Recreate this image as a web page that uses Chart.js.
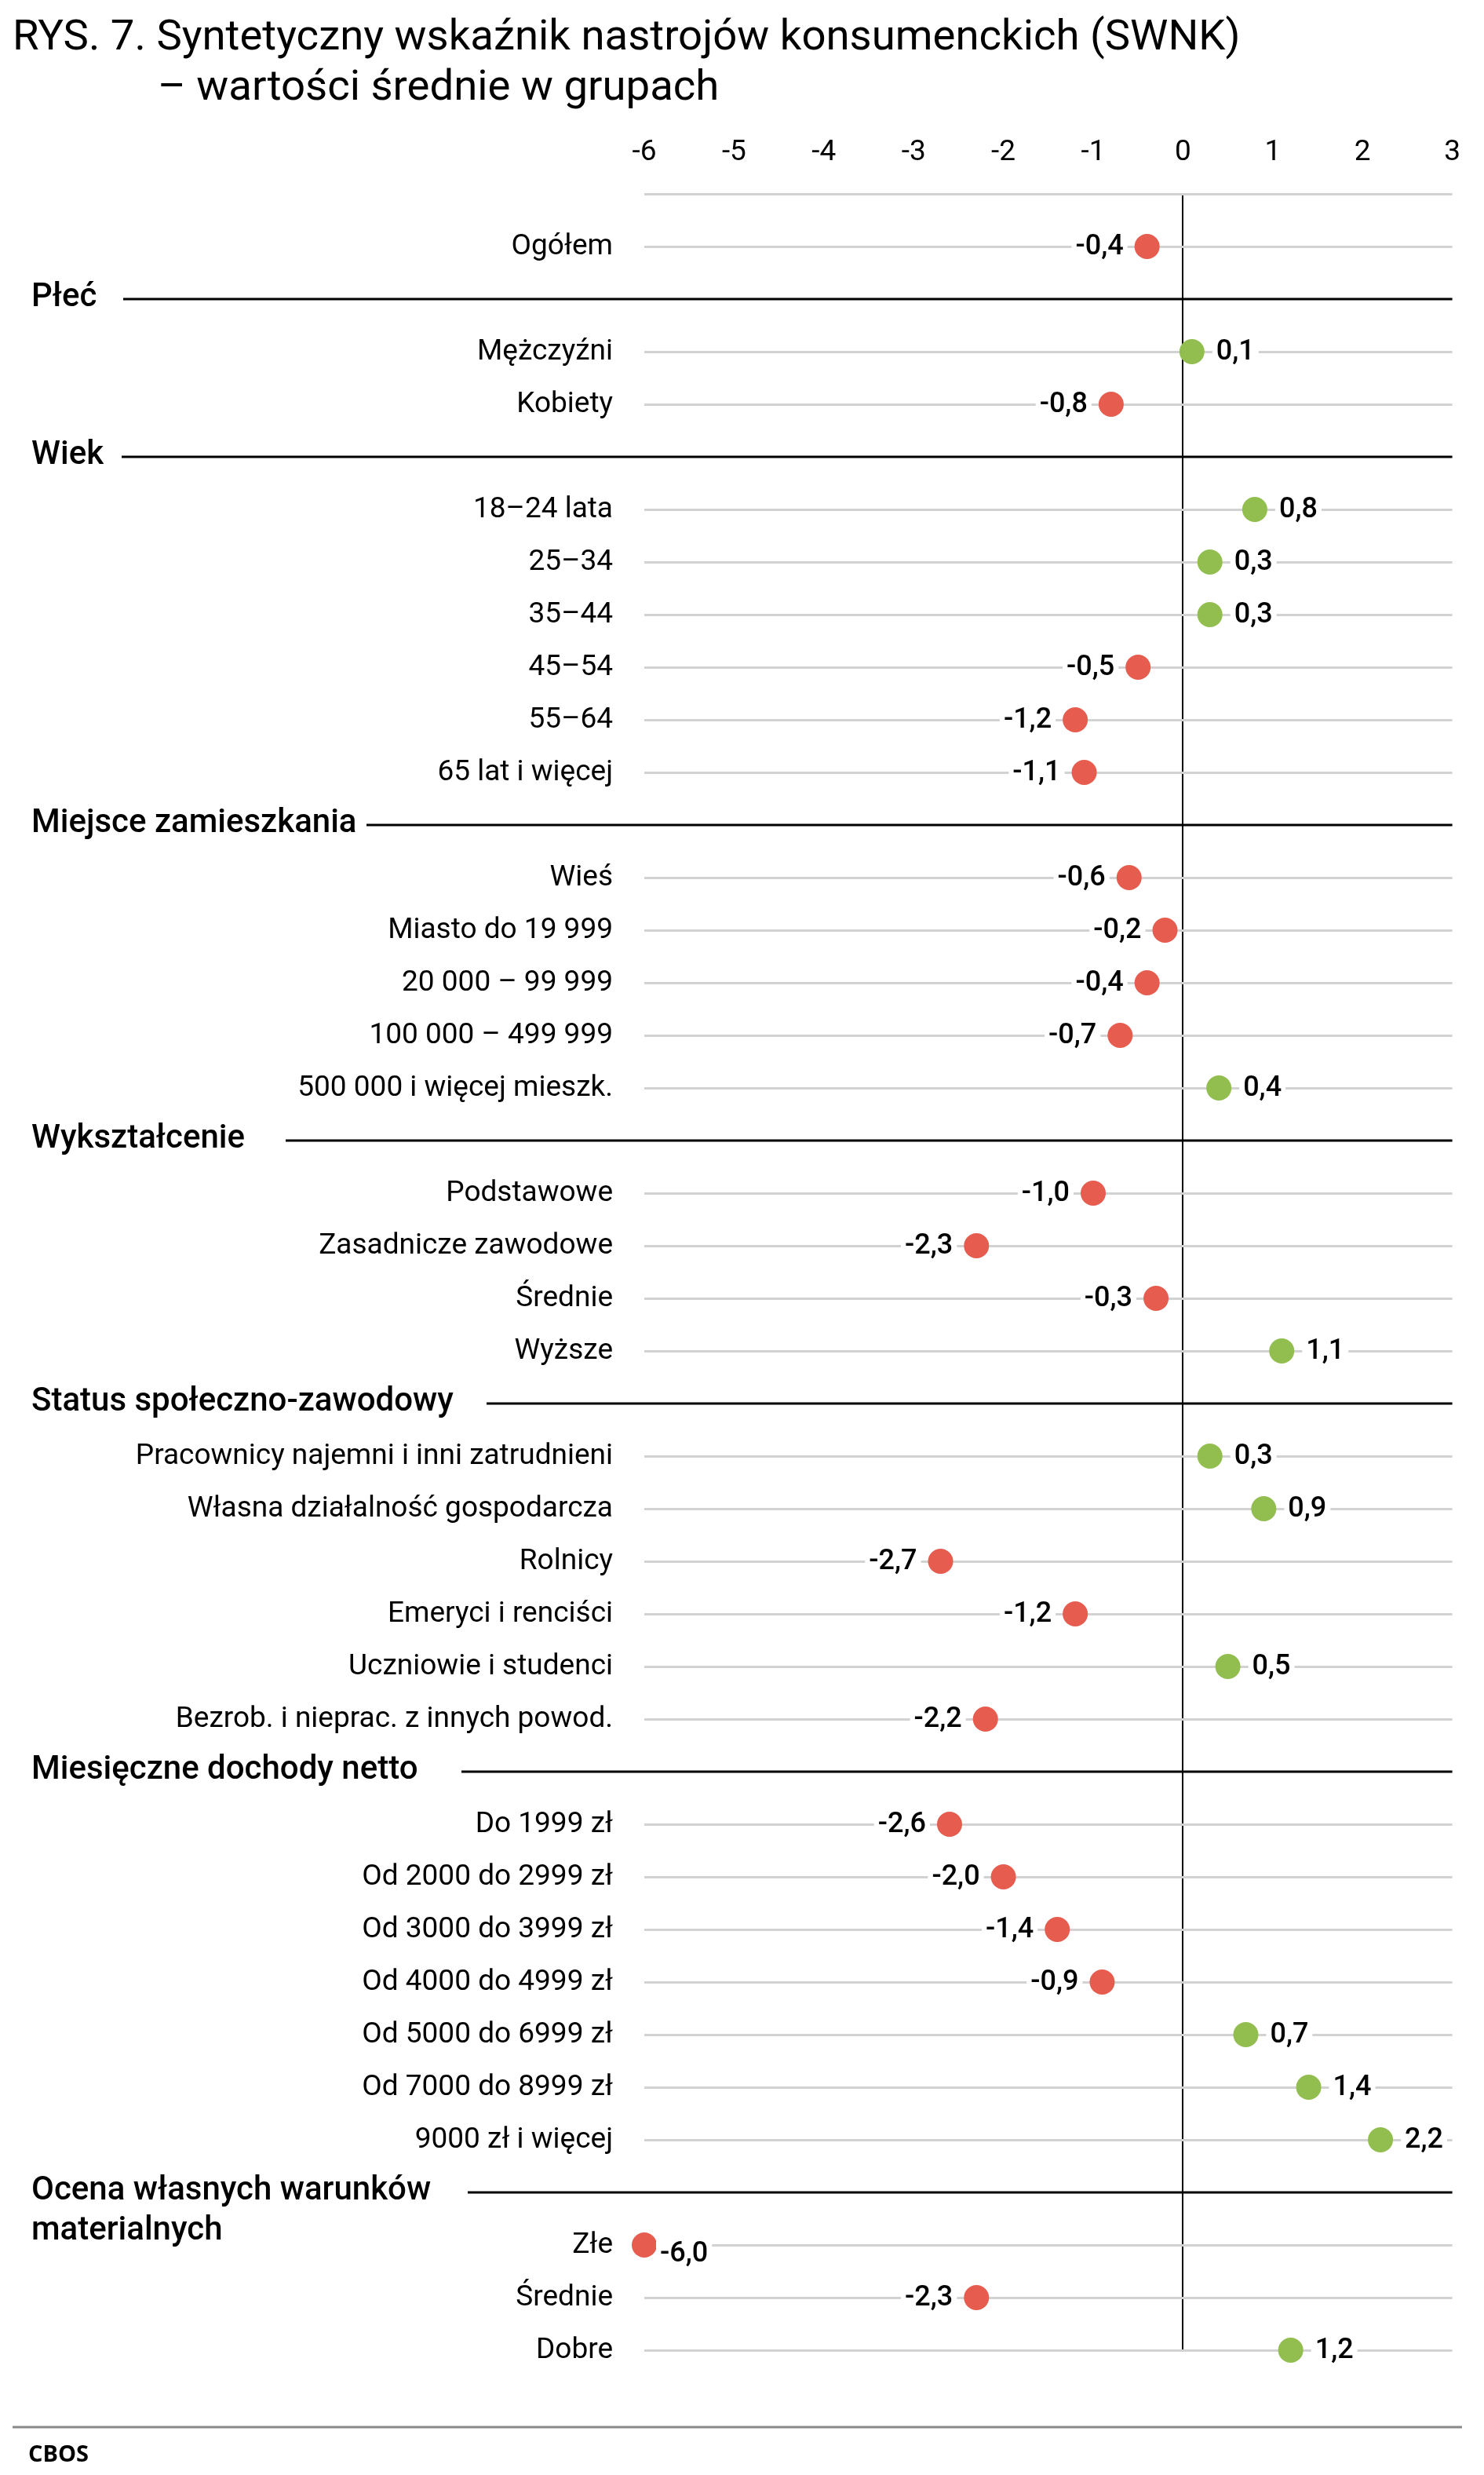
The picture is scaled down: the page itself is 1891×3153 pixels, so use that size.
<!DOCTYPE html>
<html lang="pl">
<head>
<meta charset="utf-8">
<title>SWNK – wartości średnie w grupach</title>
<script src="https://cdn.jsdelivr.net/npm/chart.js@4.4.1/dist/chart.umd.min.js"></script>
<style>
  body { margin: 0; background: #fff; font-family: Roboto, sans-serif; }
  #wrap { position: relative; width: 1891px; height: 3153px; }
  #chart { position: absolute; left: 0; top: 0; }
  .title { position: absolute; left: 16px; font-size: 54.5px; color: #000; white-space: nowrap; line-height: 1; }
  #t1 { top: 17px; }
  #t2 { top: 81px; left: 201px; }
</style>
</head>
<body>
<div id="wrap">
  <canvas id="chart" width="1891" height="3153"></canvas>
  <div class="title" id="t1">RYS. 7. Syntetyczny wskaźnik nastrojów konsumenckich (SWNK)</div>
  <div class="title" id="t2">– wartości średnie w grupach</div>
</div>
<script>
// values
const overallLabels = ['Ogółem'];
const overallValues = [-0.4];

const sexLabels = ['Mężczyźni', 'Kobiety'];
const sexValues = [0.1, -0.8];

const ageLabels = ['18–24 lata', '25–34', '35–44', '45–54', '55–64', '65 lat i więcej'];
const ageValues = [0.8, 0.3, 0.3, -0.5, -1.2, -1.1];

const placeLabels = ['Wieś', 'Miasto do 19 999', '20 000 – 99 999', '100 000 – 499 999', '500 000 i więcej mieszk.'];
const placeValues = [-0.6, -0.2, -0.4, -0.7, 0.4];

const eduLabels = ['Podstawowe', 'Zasadnicze zawodowe', 'Średnie', 'Wyższe'];
const eduValues = [-1.0, -2.3, -0.3, 1.1];

const statusLabels = ['Pracownicy najemni i inni zatrudnieni', 'Własna działalność gospodarcza', 'Rolnicy',
  'Emeryci i renciści', 'Uczniowie i studenci', 'Bezrob. i nieprac. z innych powod.'];
const statusValues = [0.3, 0.9, -2.7, -1.2, 0.5, -2.2];

const incomeLabels = ['Do 1999 zł', 'Od 2000 do 2999 zł', 'Od 3000 do 3999 zł', 'Od 4000 do 4999 zł',
  'Od 5000 do 6999 zł', 'Od 7000 do 8999 zł', '9000 zł i więcej'];
const incomeValues = [-2.6, -2.0, -1.4, -0.9, 0.7, 1.4, 2.2];

const materialLabels = ['Złe', 'Średnie', 'Dobre'];
const materialValues = [-6.0, -2.3, 1.2];

const sectionTitles = [['Płeć'], ['Wiek'], ['Miejsce zamieszkania'], ['Wykształcenie'],
  ['Status społeczno-zawodowy'], ['Miesięczne dochody netto'], ['Ocena własnych warunków', 'materialnych']];

const xTicks = [-6, -5, -4, -3, -2, -1, 0, 1, 2, 3];

// where each section's black rule starts (layout only)
const ruleStartX = [157, 155, 467, 364, 620, 588, 596];

const RED = '#e65c4f';
const GREEN = '#92be4f';

// build the row list: empty top row, overall, then sections with header rows
const sections = [
  [sexLabels, sexValues], [ageLabels, ageValues], [placeLabels, placeValues], [eduLabels, eduValues],
  [statusLabels, statusValues], [incomeLabels, incomeValues], [materialLabels, materialValues]
];
const rowLabels = [''];
const rowValues = [null];
const rowHeader = [-1];
overallLabels.forEach((l, i) => { rowLabels.push(l); rowValues.push(overallValues[i]); rowHeader.push(-1); });
sections.forEach(([labels, values], s) => {
  rowLabels.push(sectionTitles[s].join(' ')); rowValues.push(null); rowHeader.push(s);
  labels.forEach((l, i) => { rowLabels.push(l); rowValues.push(values[i]); rowHeader.push(-1); });
});

const fmt = v => v.toFixed(1).replace('.', ',');

// row labels, section headers and value labels
const textPlugin = {
  id: 'rowText',
  beforeDatasetsDraw(chart) {
    const { ctx, chartArea, scales: { y } } = chart;
    ctx.save();
    rowLabels.forEach((label, i) => {
      const py = y.getPixelForValue(i);
      if (rowHeader[i] >= 0) {
        const s = rowHeader[i];
        ctx.strokeStyle = '#000';
        ctx.lineWidth = 3;
        ctx.beginPath();
        ctx.moveTo(ruleStartX[s], py);
        ctx.lineTo(chartArea.right, py);
        ctx.stroke();
        ctx.fillStyle = '#000';
        ctx.font = '500 42px Roboto';
        ctx.textAlign = 'left';
        ctx.textBaseline = 'middle';
        sectionTitles[s].forEach((line, k) => ctx.fillText(line, 40, py - 2 + k * 51));
      } else if (label) {
        ctx.fillStyle = '#000';
        ctx.font = '37px Roboto';
        ctx.textAlign = 'right';
        ctx.textBaseline = 'middle';
        ctx.fillText(label, 781, py + 1);
      }
    });
    ctx.restore();
  },
  afterDatasetsDraw(chart) {
    const { ctx, chartArea } = chart;
    const meta = chart.getDatasetMeta(0);
    ctx.save();
    ctx.font = '500 36px Roboto';
    ctx.textBaseline = 'middle';
    rowValues.forEach((v, i) => {
      if (v === null) return;
      const pt = meta.data[i];
      const txt = fmt(v);
      const w = ctx.measureText(txt).width;
      let x, yy = pt.y + 1;
      if (v < 0) {
        x = pt.x - 16 - 14 - w;
        if (x < chartArea.left) { x = pt.x + 20; yy = pt.y + 12; }
      } else {
        x = pt.x + 16 + 15;
      }
      ctx.fillStyle = '#fff';
      ctx.fillRect(x - 5, yy - 18, w + 10, 36);
      ctx.fillStyle = '#000';
      ctx.textAlign = 'left';
      ctx.fillText(txt, x, yy);
    });
    ctx.restore();
  }
};

// footer rule and source
const footerPlugin = {
  id: 'footer',
  afterDraw(chart) {
    const { ctx } = chart;
    ctx.save();
    ctx.strokeStyle = '#8a8a8a';
    ctx.lineWidth = 3;
    ctx.beginPath();
    ctx.moveTo(16, 3092);
    ctx.lineTo(1863, 3092);
    ctx.stroke();
    ctx.fillStyle = '#000';
    ctx.font = 'bold 29px "Open Sans"';
    ctx.textAlign = 'left';
    ctx.textBaseline = 'middle';
    ctx.fillText('CBOS', 36, 3128);
    ctx.restore();
  }
};

const ctx = document.getElementById('chart').getContext('2d');
new Chart(ctx, {
  type: 'line',
  data: {
    labels: rowLabels,
    datasets: [{
      data: rowValues,
      showLine: false,
      clip: false,
      pointRadius: 16,
      pointHoverRadius: 16,
      pointBorderWidth: 0,
      pointBackgroundColor: c => (c.raw >= 0 ? GREEN : RED)
    }]
  },
  options: {
    indexAxis: 'y',
    responsive: false,
    animation: false,
    layout: { padding: { left: 0, top: 0, right: 38, bottom: 159 } },
    scales: {
      x: {
        type: 'linear',
        position: 'top',
        min: xTicks[0],
        max: xTicks[xTicks.length - 1],
        afterBuildTicks: s => { s.ticks = xTicks.map(v => ({ value: v })); },
        afterFit: s => { s.height = 247; },
        ticks: { color: '#000', font: { family: 'Roboto', size: 37 }, padding: 30 },
        grid: {
          drawTicks: false,
          color: c => (c.tick && c.tick.value === 0 ? '#000' : 'rgba(0,0,0,0)'),
          lineWidth: 2
        },
        border: { display: false }
      },
      y: {
        type: 'category',
        offset: false,
        afterFit: s => { s.width = 821; },
        ticks: { display: false },
        grid: {
          drawTicks: false,
          color: c => (rowHeader[c.index] >= 0 ? 'rgba(0,0,0,0)' : '#d2d2d2'),
          lineWidth: 3
        },
        border: { display: false }
      }
    },
    plugins: { legend: { display: false }, tooltip: { enabled: false } }
  },
  plugins: [textPlugin, footerPlugin]
});
</script>
</body>
</html>
